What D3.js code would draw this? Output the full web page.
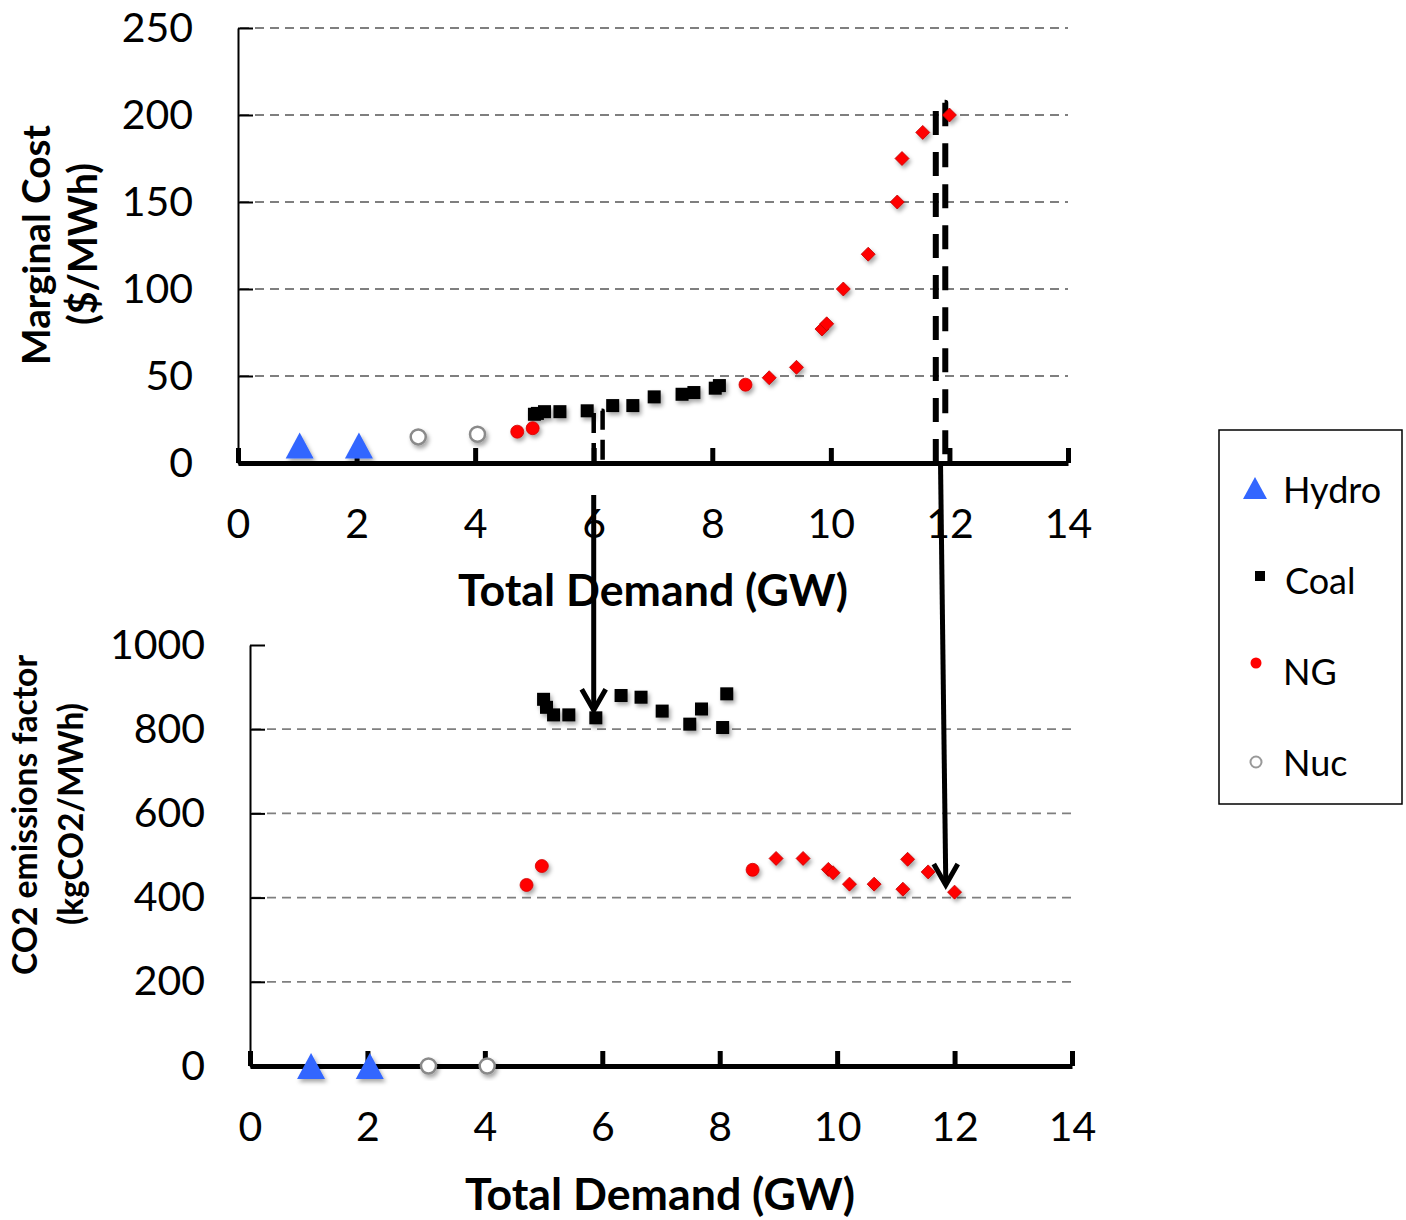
<!DOCTYPE html>
<html><head><meta charset="utf-8">
<script src="https://cdn.jsdelivr.net/npm/d3@7"></script>
<style>
body{margin:0;background:#fff}
text{font-family:Lato,"Open Sans","DejaVu Sans",sans-serif;fill:#000}
</style>
</head><body>
<svg id="c" width="1406" height="1220"></svg>
<script>
// ---------- data ----------
const xTicks = [0, 2, 4, 6, 8, 10, 12, 14];
const mcTicks = [0, 50, 100, 150, 200, 250];
const efTicks = [0, 200, 400, 600, 800, 1000];

const hydroX  = [1.04, 2.04];
const hydroMC = [10, 10];
const hydroEF = [0, 0];

const nucX  = [3.04, 4.04];
const nucMC = [15, 16.5];
const nucEF = [0, 0];

const coalX  = [5.00, 5.05, 5.17, 5.43, 5.89, 6.32, 6.66, 7.02, 7.49, 7.69, 8.05, 8.12];
const coalMC = [28, 28.5, 29.5, 29.5, 30, 33, 33, 38, 39.5, 40.5, 43, 44.5];
const coalEF = [871, 852, 834, 834, 827, 880, 876, 843, 812, 848, 804, 884];

const ngCircX  = [4.71, 4.97, 8.56];
const ngCircMC = [18, 20, 45];
const ngCircEF = [430, 475, 466];

const ngDiamX  = [8.96, 9.42, 9.85, 9.93, 10.21, 10.63, 11.12, 11.20, 11.55, 12.00];
const ngDiamMC = [49, 55, 77, 80, 100, 120, 150, 175, 190, 200];
const ngDiamEF = [493, 493, 467, 459, 432, 432, 420, 491, 461, 413];

const legendLabels = ["Hydro", "Coal", "NG", "Nuc"];

// marginal unit outlines (demand, cost) and arrows
const marginalBoxX0  = [6.00, 11.77];
const marginalBoxX1  = [6.15, 11.93];
const marginalBoxTop = [30, 207];
const arrowX    = [6.00, 11.85];
const arrowEndEF = [845, 430];

// ---------- setup ----------
const svg = d3.select("#c");
const defs = svg.append("defs");
const f = defs.append("filter").attr("id","sh").attr("x","-50%").attr("y","-50%").attr("width","200%").attr("height","200%");
f.append("feDropShadow").attr("dx",2).attr("dy",3).attr("stdDeviation",2).attr("flood-color","#000").attr("flood-opacity",0.35);

const xT = d3.scaleLinear().domain([0,14]).range([238,1068]);
const yT = d3.scaleLinear().domain([0,250]).range([463,28]);
const xB = d3.scaleLinear().domain([0,14]).range([250,1072]);
const yB = d3.scaleLinear().domain([0,1000]).range([1066,645]);

const triPath = "M0,-13L14,13L-14,13Z";
const diaPath = "M0,-7L7,0L0,7L-7,0Z";

function fitText(sel, target){
  const n = sel.node();
  const w = n.getComputedTextLength();
  const fs = parseFloat(sel.attr("font-size"));
  sel.attr("font-size", fs*target/w);
}

function panel(x, y, ticksY, gridVals, titleLines, titleCfg, xTitleCfg){
  const g = svg.append("g");
  const x0 = x.range()[0], x1 = x.range()[1];
  // gridlines
  g.append("g").selectAll("line").data(gridVals).join("line")
    .attr("x1", x0+2).attr("x2", x1)
    .attr("y1", d=>y(d)).attr("y2", d=>y(d))
    .attr("stroke","#7f7f7f").attr("stroke-width",1.8).attr("stroke-dasharray","9,6");
  // y axis
  const ya = g.append("g").attr("transform",`translate(${x0},0)`)
    .call(d3.axisLeft(y).tickValues(ticksY).tickSize(-15).tickSizeOuter(0).tickPadding(45).tickFormat(d3.format("d")));
  ya.select(".domain").attr("stroke","#000").attr("stroke-width",2);
  ya.selectAll(".tick line").attr("stroke","#000").attr("stroke-width",2);
  ya.selectAll(".tick text").attr("font-size",41).attr("font-family","Lato, sans-serif").attr("fill","#000");
  // x axis
  const xa = g.append("g").attr("transform",`translate(0,${y.range()[0]})`)
    .call(d3.axisBottom(x).tickValues(xTicks).tickSize(-15).tickSizeOuter(0).tickPadding(46).tickFormat(d3.format("d")));
  xa.select(".domain").attr("stroke","#000").attr("stroke-width",5);
  xa.selectAll(".tick line").attr("stroke","#000").attr("stroke-width",5);
  xa.selectAll(".tick text").attr("font-size",41).attr("font-family","Lato, sans-serif").attr("fill","#000");
  // x title
  const xt = g.append("text").attr("x", xTitleCfg.cx).attr("y", xTitleCfg.y)
    .attr("text-anchor","middle").attr("font-weight","bold").attr("font-size",44).text("Total Demand (GW)");
  fitText(xt, xTitleCfg.w);
  // y title lines
  titleLines.forEach((t,i)=>{
    const c = titleCfg[i];
    const tt = g.append("text").attr("transform",`translate(${c.x},${c.cy}) rotate(-90)`)
      .attr("text-anchor","middle").attr("font-weight","bold").attr("font-size",34).text(t);
    fitText(tt, c.w);
  });
  return g;
}

panel(xT, yT, mcTicks, [50,100,150,200,250],
  ["Marginal Cost","($/MWh)"],
  [{x:50, cy:245, w:240},{x:97, cy:244, w:162}],
  {cx:653, y:606, w:390});
panel(xB, yB, efTicks, [200,400,600,800],
  ["CO2 emissions factor","(kgCO2/MWh)"],
  [{x:37, cy:815, w:320},{x:83, cy:814, w:222}],
  {cx:660, y:1210, w:390});

// ---------- marginal-unit dashed outlines ----------
const ann = svg.append("g");
marginalBoxX0.forEach((d,i)=>{
  const p = d3.path();
  p.moveTo(xT(d), yT(0));
  p.lineTo(xT(d), yT(marginalBoxTop[i]));
  p.lineTo(xT(marginalBoxX1[i]), yT(marginalBoxTop[i]));
  p.lineTo(xT(marginalBoxX1[i]), yT(0));
  ann.append("path").attr("d", p.toString()).attr("fill","none")
    .attr("stroke","#000").attr("stroke-width", i===0?4.5:6)
    .attr("stroke-dasharray", i===0?"20,10":"24,17")
    .attr("stroke-linejoin","round");
});

// ---------- markers ----------
function plot(xs, ys, X, Y, kind){
  const g = svg.append("g").attr("filter","url(#sh)");
  const data = xs.map((d,i)=>[d, ys[i]]);
  if(kind==="hydro"){
    g.selectAll("path").data(data).join("path").attr("d",triPath)
      .attr("transform",d=>`translate(${X(d[0])},${Y(d[1])})`).attr("fill","#3366ff");
  } else if(kind==="nuc"){
    g.selectAll("circle").data(data).join("circle").attr("cx",d=>X(d[0])).attr("cy",d=>Y(d[1]))
      .attr("r",7.5).attr("fill","#fff").attr("stroke","#8a8a8a").attr("stroke-width",2.5);
  } else if(kind==="coal"){
    g.selectAll("rect").data(data).join("rect").attr("x",d=>X(d[0])-6.5).attr("y",d=>Y(d[1])-6.5)
      .attr("width",13).attr("height",13).attr("fill","#000");
  } else if(kind==="ngc"){
    g.selectAll("circle").data(data).join("circle").attr("cx",d=>X(d[0])).attr("cy",d=>Y(d[1]))
      .attr("r",6.5).attr("fill","#ff0000").attr("stroke","#d00000").attr("stroke-width",0.8);
  } else {
    g.selectAll("path").data(data).join("path").attr("d",diaPath)
      .attr("transform",d=>`translate(${X(d[0])},${Y(d[1])})`).attr("fill","#ff0000").attr("stroke","#c00000").attr("stroke-width",0.8);
  }
}
plot(hydroX, hydroMC, xT, yT, "hydro");
plot(nucX, nucMC, xT, yT, "nuc");
plot(coalX, coalMC, xT, yT, "coal");
plot(ngCircX, ngCircMC, xT, yT, "ngc");
plot(ngDiamX, ngDiamMC, xT, yT, "ngd");

plot(hydroX, hydroEF, xB, yB, "hydro");
plot(nucX, nucEF, xB, yB, "nuc");
plot(coalX, coalEF, xB, yB, "coal");
plot(ngCircX, ngCircEF, xB, yB, "ngc");
plot(ngDiamX, ngDiamEF, xB, yB, "ngd");

// ---------- arrows ----------
const arrowStartY = [yT(0)+32, yT(0)+2];
arrowX.forEach((d,i)=>{
  const sx = xT(d), ex = (i===0? xT(d) : xB(d));
  const sy = arrowStartY[i], ey = yB(arrowEndEF[i]);
  ann.append("line").attr("x1",sx).attr("y1",sy).attr("x2",ex).attr("y2",ey-3)
    .attr("stroke","#000").attr("stroke-width",5);
  ann.append("path").attr("d",`M${ex-12},${ey-21}L${ex},${ey}L${ex+12},${ey-21}`)
    .attr("fill","none").attr("stroke","#000").attr("stroke-width",5).attr("stroke-linejoin","miter");
});

// ---------- legend ----------
const lg = svg.append("g");
lg.append("rect").attr("x",1219).attr("y",430).attr("width",183).attr("height",374)
  .attr("fill","#fff").attr("stroke","#000").attr("stroke-width",1.5);
const ly = d3.scalePoint().domain(legendLabels).range([490, 763]);
lg.append("path").attr("d","M0,-11L12,11L-12,11Z").attr("transform",`translate(1255,${ly("Hydro")-2})`).attr("fill","#3366ff");
lg.append("rect").attr("x",1255).attr("y",ly("Coal")-10).attr("width",10).attr("height",10).attr("fill","#000");
lg.append("circle").attr("cx",1256).attr("cy",ly("NG")-9).attr("r",5.5).attr("fill","#ff0000");
lg.append("circle").attr("cx",1256).attr("cy",ly("Nuc")-1).attr("r",5.5).attr("fill","#fff").attr("stroke","#999").attr("stroke-width",2);
lg.selectAll("text.l").data(legendLabels).join("text").attr("class","l")
  .attr("x",(d)=> d==="Coal"?1285:1283).attr("y",d=>ly(d)+13)
  .attr("font-size",36).text(d=>d);
</script>
</body></html>
